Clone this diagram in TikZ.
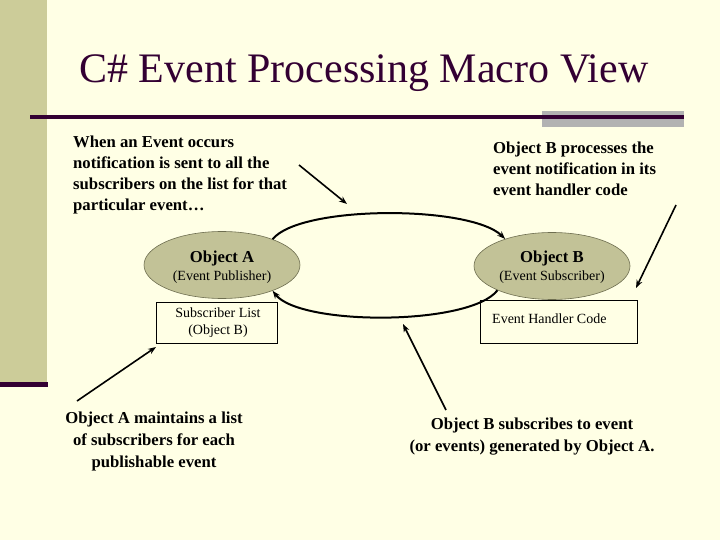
\documentclass[tikz,border=0pt]{standalone}
\usepackage{fontspec}
\setmainfont{Liberation Serif}
\usetikzlibrary{shapes.geometric,arrows.meta}
\definecolor{bgc}{HTML}{FFFFE5}
\definecolor{barc}{HTML}{CCCC99}
\definecolor{darkp}{HTML}{330033}
\definecolor{grayr}{HTML}{B2B2B2}
\definecolor{ellc}{HTML}{C2C297}
\definecolor{ellline}{HTML}{6E6E50}
\tikzset{
  bigtxt/.style={inner sep=0pt, font=\fontsize{16.7}{21}\selectfont\bfseries},
  bigtxtw/.style={inner sep=0pt, font=\fontsize{16.7}{22}\selectfont\bfseries},
  objell/.style={ellipse, draw=ellline, line width=0.6pt, fill=ellc, minimum width=156pt, minimum height=67pt, inner sep=0pt, align=center},
  smalltxt/.style={inner sep=0pt, font=\fontsize{14}{17}\selectfont},
  flow/.style={line width=2pt, -{Stealth[length=8pt,width=6pt]}},
  pointer/.style={line width=1.6pt, -{Stealth[length=8pt,width=6pt]}}
}
\begin{document}
\begin{tikzpicture}[x=1pt,y=-1pt]
\useasboundingbox (0,0) rectangle (720,540);
\fill[bgc] (0,0) rectangle (720,540);
% decorations
\fill[barc] (0,0) rectangle (47,382);
\fill[darkp] (0,382) rectangle (48,387);
\fill[grayr] (542,111) rectangle (684,127);
\fill[darkp] (30,115.5) rectangle (684,119.5);
% title
\node[inner sep=0pt, anchor=base, text=darkp, font=\fontsize{42}{46}\selectfont] (title) at (364,83) {C\# Event Processing Macro View};
% texts (base anchor lies near the last line)
\node[bigtxt, anchor=base west, align=left] (t1) at (73,210.5) {When an Event occurs\\notification is sent to all the\\subscribers on the list for that\\particular event\dots};
\node[bigtxt, anchor=base west, align=left] (t2) at (493,195.5) {Object B processes the\\event notification in its\\event handler code};
\node[bigtxtw, anchor=base, align=center] (t3) at (154,467.5) {Object A maintains a list\\of subscribers for each\\publishable event};
\node[bigtxtw, anchor=base, align=center] (t4) at (532,451.5) {Object B subscribes to event\\(or events) generated by Object A.};
% objects
\node[objell] (A) at (222,265) {};
\node[objell] (B) at (552,266) {};
\node[inner sep=0pt, anchor=base, font=\fontsize{16.7}{18}\selectfont\bfseries] (Aname) at (222,262) {Object A};
\node[smalltxt, anchor=base] (Arole) at (222,280) {(Event Publisher)};
\node[inner sep=0pt, anchor=base, font=\fontsize{16.7}{18}\selectfont\bfseries] (Bname) at (552,262) {Object B};
\node[smalltxt, anchor=base] (Brole) at (552,280) {(Event Subscriber)};
% boxes
\draw[line width=0.6pt] (156,302) rectangle (277,343);
\node[smalltxt, anchor=base, align=center] (SL) at (218,334.5) {Subscriber List\\(Object B)};
\draw[line width=0.6pt] (480,300) rectangle (637,343);
\node[smalltxt, anchor=base west] (EH) at (492,323) {Event Handler Code};
% flows
\draw[flow] (A.27) .. controls (300,205) and (470,205) .. (B.150);
\draw[flow] (B.-156) .. controls (470,326) and (300,326) .. (A.-27);
% pointers
\coordinate (p1s) at (299,165); \coordinate (p1e) at (347,204);
\coordinate (p2s) at (676,205); \coordinate (p2e) at (636,288);
\coordinate (p3s) at (77,401); \coordinate (p3e) at (156,347);
\coordinate (p4s) at (446,410); \coordinate (p4e) at (403,324);
\draw[pointer] (p1s) -- (p1e);
\draw[pointer] (p2s) -- (p2e);
\draw[pointer] (p3s) -- (p3e);
\draw[pointer] (p4s) -- (p4e);
\end{tikzpicture}
\end{document}
